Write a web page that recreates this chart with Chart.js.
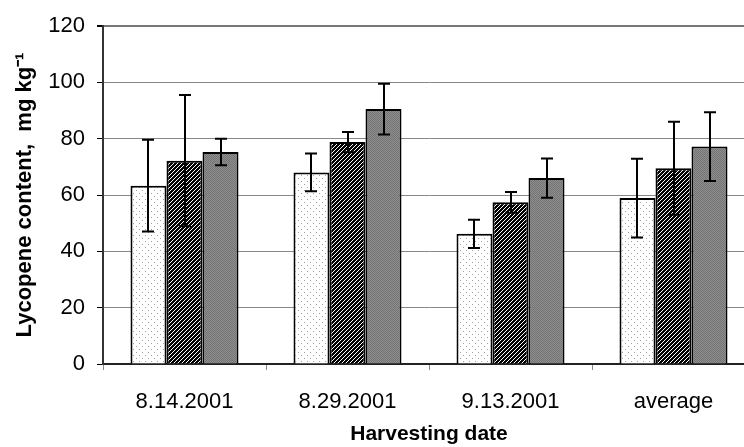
<!DOCTYPE html>
<html>
<head>
<meta charset="utf-8">
<script src="https://cdn.jsdelivr.net/npm/chart.js@4.4.1/dist/chart.umd.min.js"></script>
<style>
  html, body { margin: 0; padding: 0; background: #fff; overflow: hidden; }
  #wrap { width: 760px; height: 447px; }
</style>
</head>
<body>
<div id="wrap"><canvas id="c" width="760" height="447"></canvas></div>
<script>
// ---- data ----
const categories = ['8.14.2001', '8.29.2001', '9.13.2001', 'average'];
const seriesA = [63.3, 68.0, 46.2, 58.9];
const errorsA = [16.3, 6.7, 5.0, 14.0];
const seriesB = [72.2, 78.8, 57.4, 69.5];
const errorsB = [23.3, 3.6, 3.7, 16.5];
const seriesC = [75.3, 90.5, 66.0, 77.2];
const errorsC = [4.7, 9.0, 7.0, 12.2];
const yTicks = [0, 20, 40, 60, 80, 100, 120];

// ---- fill patterns ----
function makePattern(w, h, draw) {
  const cv = document.createElement('canvas');
  cv.width = w; cv.height = h;
  const x = cv.getContext('2d');
  draw(x, w, h);
  return document.getElementById('c').getContext('2d').createPattern(cv, 'repeat');
}
const dotPattern = makePattern(6, 6, (x, w, h) => {
  x.fillStyle = '#ffffff'; x.fillRect(0, 0, w, h);
  x.fillStyle = '#a0a0a0';
  x.fillRect(1, 1, 1, 1);
  x.fillRect(4, 4, 1, 1);
});
const hatchPattern = makePattern(4, 4, (x, w, h) => {
  x.fillStyle = '#ffffff'; x.fillRect(0, 0, w, h);
  x.fillStyle = '#000000';
  for (let i = 0; i < w; i++) for (let j = 0; j < h; j++) {
    if ((i + j) % 4 !== 0) x.fillRect(i, j, 1, 1);
  }
});
const grayPattern = makePattern(2, 2, (x, w, h) => {
  x.fillStyle = '#747474'; x.fillRect(0, 0, 2, 2);
  x.fillStyle = '#8e8e8e'; x.fillRect(1, 0, 1, 1); x.fillRect(0, 1, 1, 1);
});

const errorSets = [errorsA, errorsB, errorsC];

const errorBarPlugin = {
  id: 'errorBars',
  afterDatasetsDraw(chart) {
    const ctx = chart.ctx;
    const yScale = chart.scales.y;
    ctx.save();
    ctx.strokeStyle = '#000';
    ctx.lineWidth = 2;
    chart.data.datasets.forEach((ds, di) => {
      const meta = chart.getDatasetMeta(di);
      meta.data.forEach((bar, i) => {
        const v = ds.data[i];
        const e = errorSets[di][i];
        const x = Math.round(bar.x);
        const yTop = yScale.getPixelForValue(v + e);
        const yBot = yScale.getPixelForValue(v - e);
        const cap = 6;
        ctx.beginPath();
        ctx.moveTo(x, yTop); ctx.lineTo(x, yBot);
        ctx.moveTo(x - cap, yTop); ctx.lineTo(x + cap, yTop);
        ctx.moveTo(x - cap, yBot); ctx.lineTo(x + cap, yBot);
        ctx.stroke();
      });
    });
    ctx.restore();
  }
};

const barCommon = { borderColor: '#000', borderWidth: 2, categoryPercentage: 0.6626, barPercentage: 1.0 };

new Chart(document.getElementById('c'), {
  type: 'bar',
  data: {
    labels: categories,
    datasets: [
      Object.assign({ label: 'A', data: seriesA, backgroundColor: dotPattern }, barCommon),
      Object.assign({ label: 'B', data: seriesB, backgroundColor: hatchPattern }, barCommon),
      Object.assign({ label: 'C', data: seriesC, backgroundColor: grayPattern }, barCommon)
    ]
  },
  options: {
    responsive: false,
    animation: false,
    devicePixelRatio: 1,
    layout: { padding: { top: 26, right: 5, bottom: 0, left: 0 } },
    plugins: { legend: { display: false }, tooltip: { enabled: false } },
    scales: {
      x: {
        offset: true,
        grid: { display: true, drawOnChartArea: false, drawTicks: true, tickLength: 6, color: '#888', offset: true },
        border: { display: true, color: '#222', width: 2 },
        ticks: { color: '#000', font: { family: 'Liberation Sans, Arial', size: 22 }, padding: 19, maxRotation: 0 },
        title: { display: true, text: 'Harvesting date', color: '#000',
                 font: { family: 'Liberation Sans, Arial', size: 21, weight: 'bold' }, padding: { top: 0, bottom: 0 } },
        afterFit(s) { s.height = 83; }
      },
      y: {
        min: 0, max: 120,
        afterBuildTicks(s) { s.ticks = yTicks.map(v => ({ value: v })); },
        grid: {
          color: (c) => (c.tick && c.tick.value === 120) ? '#777' : '#888',
          lineWidth: (c) => (c.tick && c.tick.value === 120) ? 2 : 1,
          tickColor: '#000', tickLength: 6, drawTicks: true
        },
        border: { display: true, color: '#333', width: 2 },
        ticks: { color: '#000', font: { family: 'Liberation Sans, Arial', size: 22 }, padding: 12 },
        title: { display: true, text: 'Lycopene content,  mg kg\u207B\u00B9', color: '#000',
                 font: { family: 'Liberation Sans, Arial', size: 22, weight: 'bold' }, padding: { top: 12, bottom: 0 } },
        afterFit(s) { s.width = 103; }
      }
    }
  },
  plugins: [errorBarPlugin]
});
</script>
</body>
</html>
